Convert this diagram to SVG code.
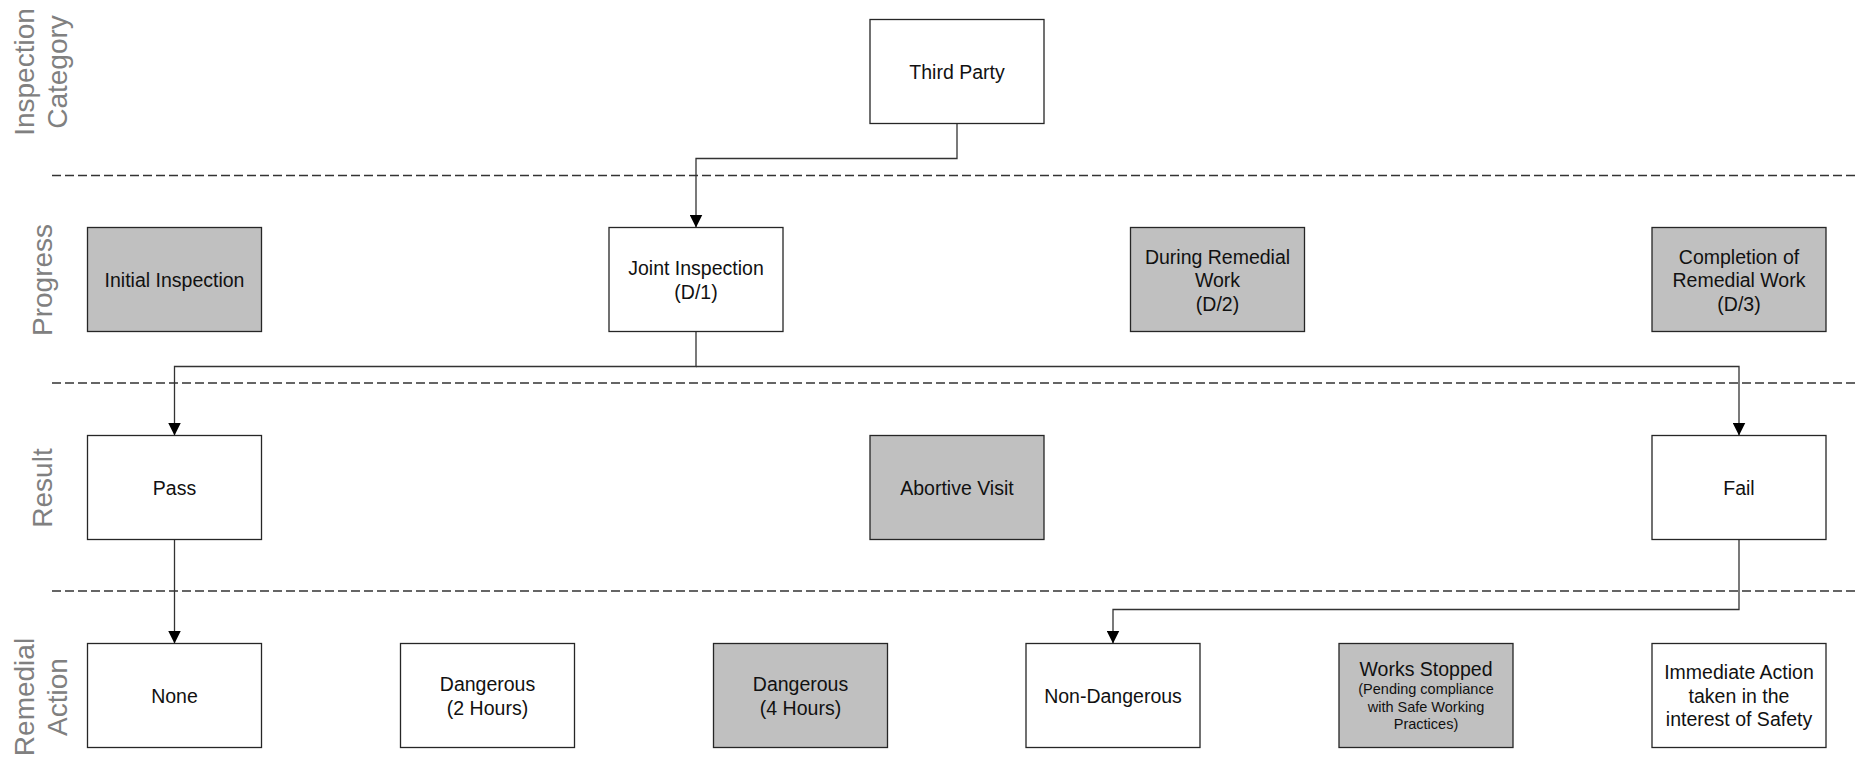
<svg xmlns="http://www.w3.org/2000/svg" width="1858" height="757" viewBox="0 0 1858 757">
<style>
  .box{stroke:#262626;stroke-width:1.3;fill:#ffffff}
  .grey{fill:#c0c0c0}
  .t{font-family:"Liberation Sans",Arial,sans-serif;font-size:19.5px;fill:#111;text-anchor:middle}
  .s{font-size:14.5px}
  .lane{font-family:"Liberation Sans",Arial,sans-serif;font-size:28px;fill:#808080;text-anchor:middle}
  .dash{stroke:#333;stroke-width:1.3;stroke-dasharray:9 4;fill:none}
  .conn{stroke:#333;stroke-width:1.3;fill:none;marker-end:url(#arr)}
</style>
<defs>
  <marker id="arr" markerUnits="userSpaceOnUse" markerWidth="13" markerHeight="13" refX="13" refY="6.5" orient="auto">
    <path d="M0,0 L13,6.5 L0,13 z" fill="#000"/>
  </marker>
</defs>
<rect width="1858" height="757" fill="#fff"/>

<g id="lanes">
  <line class="dash" x1="52" y1="175.5" x2="1858" y2="175.5"/>
  <line class="dash" x1="52" y1="383" x2="1858" y2="383"/>
  <line class="dash" x1="52" y1="591" x2="1858" y2="591"/>
  <text class="lane" transform="translate(34 72) rotate(-90)">Inspection</text>
  <text class="lane" transform="translate(67 72) rotate(-90)">Category</text>
  <text class="lane" transform="translate(52 280) rotate(-90)">Progress</text>
  <text class="lane" transform="translate(52 488) rotate(-90)">Result</text>
  <text class="lane" transform="translate(34 697) rotate(-90)">Remedial</text>
  <text class="lane" transform="translate(67 697) rotate(-90)">Action</text>
</g>

<g id="connectors">
  <path class="conn" d="M957,123.5 V158.5 H696 V227.5"/>
  <path class="conn" d="M696,331.5 V366.5 H174.5 V435.5"/>
  <path class="conn" d="M696,366.5 H1739 V435.5"/>
  <path class="conn" d="M174.5,539.5 V643.5"/>
  <path class="conn" d="M1739,539.5 V609.5 H1113 V643.5"/>
</g>

<g id="third-party"><rect class="box" x="870" y="19.5" width="174" height="104"/><text class="t" x="957" y="78.5">Third Party</text></g>

<g id="initial-inspection"><rect class="box grey" x="87.5" y="227.5" width="174" height="104"/><text class="t" x="174.5" y="286.5">Initial Inspection</text></g>
<g id="joint-inspection"><rect class="box" x="609" y="227.5" width="174" height="104"/><text class="t" x="696" y="275">Joint Inspection</text><text class="t" x="696" y="298.5">(D/1)</text></g>
<g id="during-remedial"><rect class="box grey" x="1130.5" y="227.5" width="174" height="104"/><text class="t" x="1217.5" y="263.5">During Remedial</text><text class="t" x="1217.5" y="287">Work</text><text class="t" x="1217.5" y="310.5">(D/2)</text></g>
<g id="completion"><rect class="box grey" x="1652" y="227.5" width="174" height="104"/><text class="t" x="1739" y="263.5">Completion of</text><text class="t" x="1739" y="287">Remedial Work</text><text class="t" x="1739" y="310.5">(D/3)</text></g>

<g id="pass"><rect class="box" x="87.5" y="435.5" width="174" height="104"/><text class="t" x="174.5" y="494.5">Pass</text></g>
<g id="abortive-visit"><rect class="box grey" x="870" y="435.5" width="174" height="104"/><text class="t" x="957" y="494.5">Abortive Visit</text></g>
<g id="fail"><rect class="box" x="1652" y="435.5" width="174" height="104"/><text class="t" x="1739" y="494.5">Fail</text></g>

<g id="none"><rect class="box" x="87.5" y="643.5" width="174" height="104"/><text class="t" x="174.5" y="702.5">None</text></g>
<g id="dangerous-2h"><rect class="box" x="400.5" y="643.5" width="174" height="104"/><text class="t" x="487.5" y="691">Dangerous</text><text class="t" x="487.5" y="714.5">(2 Hours)</text></g>
<g id="dangerous-4h"><rect class="box grey" x="713.5" y="643.5" width="174" height="104"/><text class="t" x="800.5" y="691">Dangerous</text><text class="t" x="800.5" y="714.5">(4 Hours)</text></g>
<g id="non-dangerous"><rect class="box" x="1026" y="643.5" width="174" height="104"/><text class="t" x="1113" y="702.5">Non-Dangerous</text></g>
<g id="works-stopped"><rect class="box grey" x="1339" y="643.5" width="174" height="104"/><text class="t" x="1426" y="675.5">Works Stopped</text><text class="t s" x="1426" y="694">(Pending compliance</text><text class="t s" x="1426" y="711.5">with Safe Working</text><text class="t s" x="1426" y="729">Practices)</text></g>
<g id="immediate-action"><rect class="box" x="1652" y="643.5" width="174" height="104"/><text class="t" x="1739" y="679">Immediate Action</text><text class="t" x="1739" y="702.5">taken in the</text><text class="t" x="1739" y="726">interest of Safety</text></g>
</svg>
